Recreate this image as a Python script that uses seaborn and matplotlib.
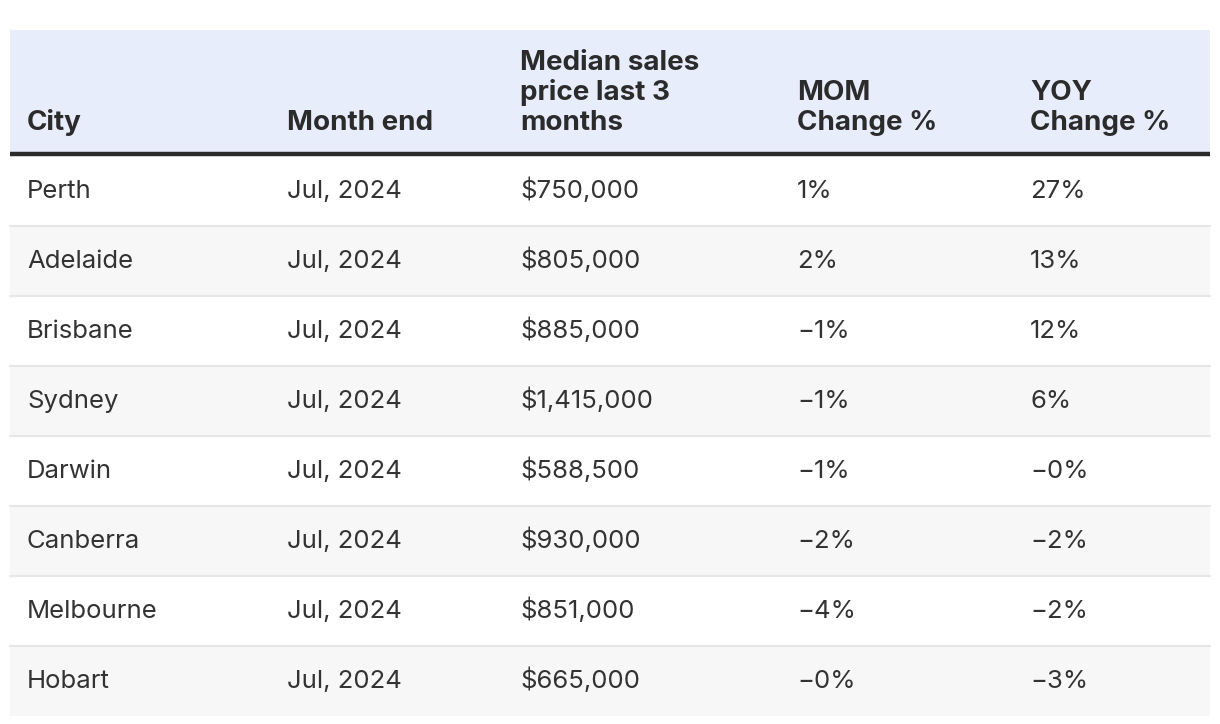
import matplotlib.pyplot as plt
import seaborn as sns
from matplotlib.patches import Rectangle

# table content
headers = ["City", "Month end", "Median sales\nprice last 3\nmonths", "MOM\nChange %", "YOY\nChange %"]
cities = ["Perth", "Adelaide", "Brisbane", "Sydney", "Darwin", "Canberra", "Melbourne", "Hobart"]
month_end = ["Jul, 2024"] * 8
median_price = ["$750,000", "$805,000", "$885,000", "$1,415,000", "$588,500",
                "$930,000", "$851,000", "$665,000"]
mom_change = ["1%", "2%", "\u22121%", "\u22121%", "\u22121%", "\u22122%", "\u22124%", "\u22120%"]
yoy_change = ["27%", "13%", "12%", "6%", "\u22120%", "\u22122%", "\u22122%", "\u22123%"]

sns.set_theme(style="white")
plt.rcParams['font.family'] = ['Inter', 'DejaVu Sans']

W, H = 1220, 724
fig = plt.figure(figsize=(W / 100, H / 100), dpi=100)
ax = fig.add_axes([0, 0, 1, 1])
ax.set_xlim(0, W)
ax.set_ylim(H, 0)
ax.axis('off')

left, right = 10, 1210
col_x = [27, 287, 520, 797, 1030]
head_top, head_bottom = 30, 154
row_top, row_h = 156, 70

# header
ax.add_patch(Rectangle((left, head_top), right - left, head_bottom - head_top,
                       color='#e8edfc', lw=0, zorder=0))
for x, label in zip(col_x, headers):
    lines = label.split("\n")
    n = len(lines)
    for i, line in enumerate(lines):
        ax.text(x, 130 - 30 * (n - 1 - i), line, fontsize=20, fontweight='bold',
                color='#2b2b2b', va='baseline', ha='left')
ax.plot([left, right], [head_bottom, head_bottom], color='#2b2b2b', lw=3.2,
        solid_capstyle='butt', zorder=3)

# body rows
columns = [cities, month_end, median_price, mom_change, yoy_change]
for r in range(len(cities)):
    y0 = row_top + r * row_h
    if r % 2 == 1:
        ax.add_patch(Rectangle((left, y0), right - left, row_h, color='#f7f7f7',
                               lw=0, zorder=0))
    if r > 0:
        ax.plot([left, right], [y0, y0], color='#e6e6e6', lw=1.5, zorder=1)
    for x, col in zip(col_x, columns):
        ax.text(x, y0 + 42, col[r], fontsize=18.5, color='#333333',
                va='baseline', ha='left')

fig.savefig('out.png', dpi=100, facecolor='white')
